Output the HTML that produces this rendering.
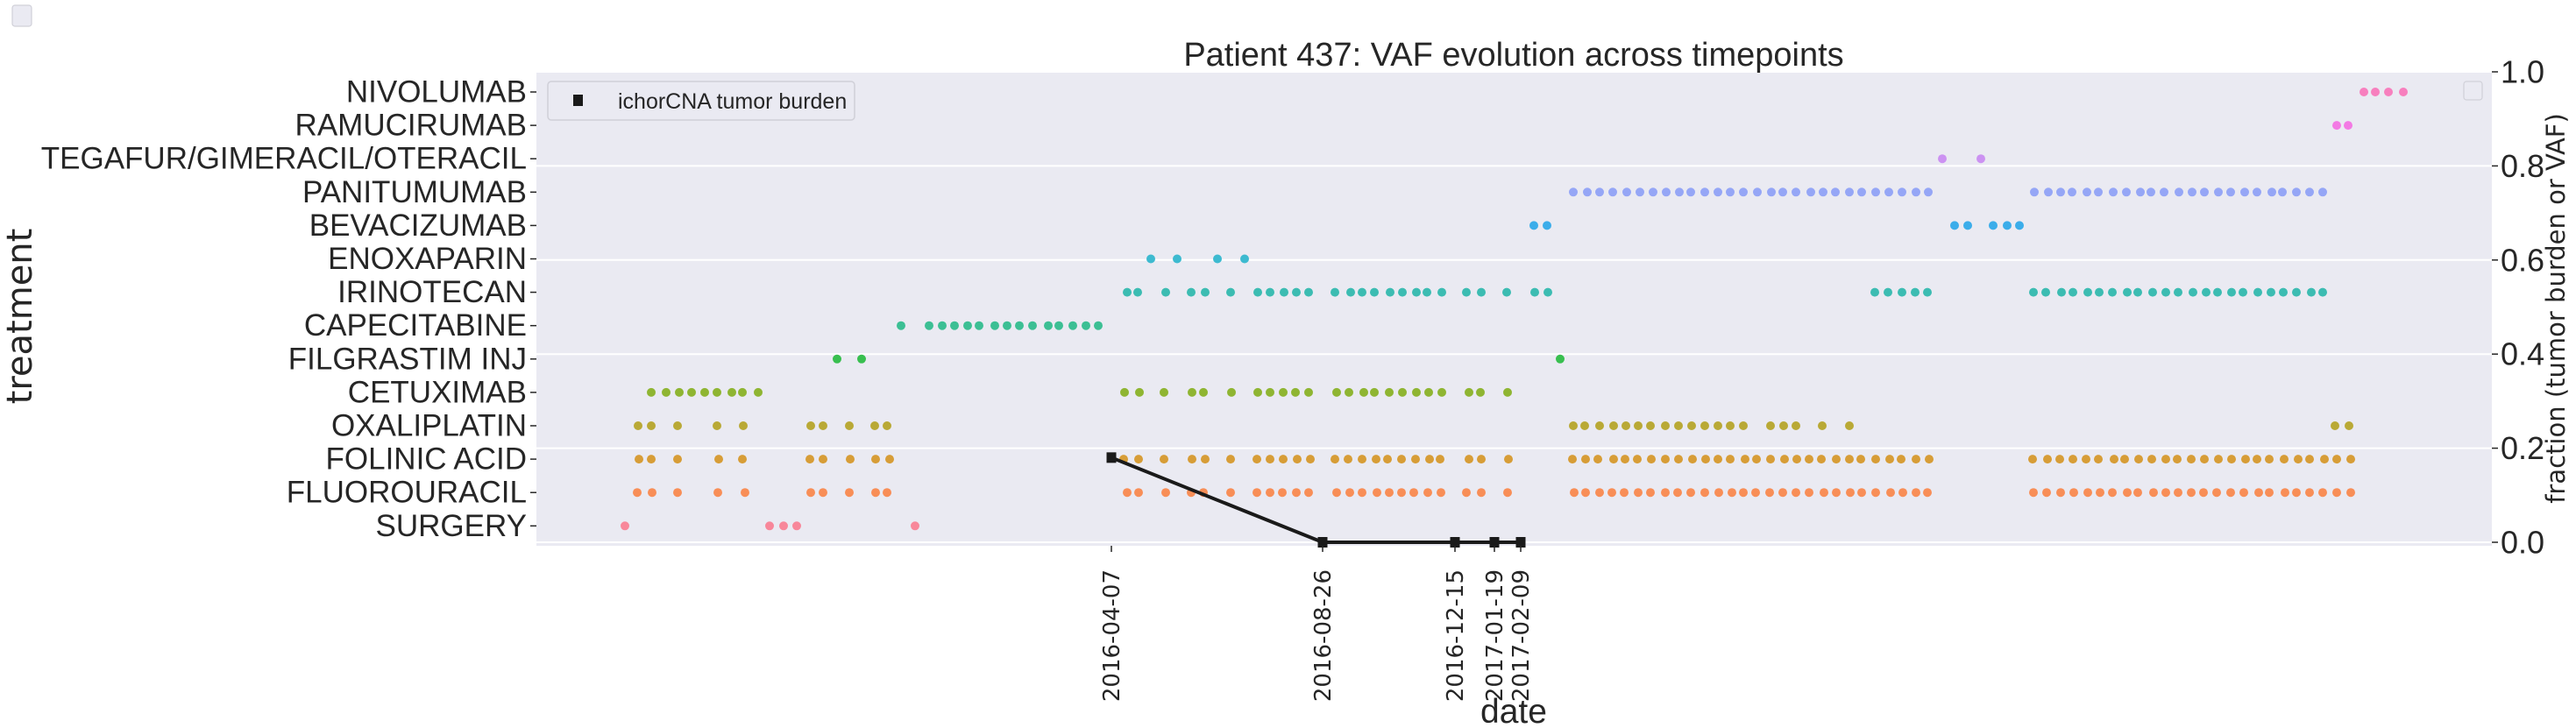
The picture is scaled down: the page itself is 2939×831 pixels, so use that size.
<!DOCTYPE html>
<html><head><meta charset="utf-8">
<style>
html,body{margin:0;padding:0;background:#fff;}
svg{display:block;}
</style></head>
<body>
<svg id="chart" width="2939" height="831" viewBox="0 0 2939 831" xmlns="http://www.w3.org/2000/svg">
  <rect x="612" y="82" width="2231" height="541" fill="#eaeaf2"/>
  <g id="grid"></g>
  <g id="marks"></g>
  <g id="axes"></g>
  <text x="1727" y="75" text-anchor="middle" font-family="Liberation Sans, sans-serif" font-size="38" fill="#262626">Patient 437: VAF evolution across timepoints</text>
  <text x="1727" y="825" text-anchor="middle" font-family="Liberation Sans, sans-serif" font-size="39" fill="#262626">date</text>
  <text transform="translate(36,361) rotate(-90)" text-anchor="middle" font-family="DejaVu Sans, sans-serif" font-size="40" fill="#262626">treatment</text>
  <text transform="translate(2926,352) rotate(-90)" text-anchor="middle" font-family="DejaVu Sans, sans-serif" font-size="29" fill="#262626">fraction (tumor burden or VAF)</text>
  <g>
    <rect x="625" y="93" width="350" height="44" rx="4" fill="#eaeaf2" stroke="#d0d0d8" stroke-width="1.5"/>
    <rect x="654" y="108" width="11" height="13" fill="#1a1a1a"/>
    <text x="705" y="124" font-family="Liberation Sans, sans-serif" font-size="25" fill="#262626">ichorCNA tumor burden</text>
  </g>
  <rect x="2811" y="93" width="21" height="21" rx="3" fill="#eaeaf2" stroke="#d0d0d8" stroke-width="1.2"/>
  <rect x="14" y="6" width="22" height="24" rx="3" fill="#eaeaf2" stroke="#d0d0d8" stroke-width="1.2"/>
</svg>
<script>
const categories = ["NIVOLUMAB","RAMUCIRUMAB","TEGAFUR/GIMERACIL/OTERACIL","PANITUMUMAB","BEVACIZUMAB","ENOXAPARIN","IRINOTECAN","CAPECITABINE","FILGRASTIM INJ","CETUXIMAB","OXALIPLATIN","FOLINIC ACID","FLUOROURACIL","SURGERY"];
const colors = ["#f77fbe","#f37ae4","#cc92f2","#95a6f6","#3badea","#3dbad0","#3cbcb2","#3cbf94","#38bf4f","#8fb532","#b9a936","#d79d37","#f88e57","#f8879a"];
const dNivo = [2097,2110,2125,2142];
const dRamu = [2066,2079];
const dTega = [1616,1660];
const dPani = [1195,1211,1225,1240,1256,1271,1286,1301,1316,1329,1345,1360,1374,1389,1405,1421,1434,1449,1466,1480,1494,1510,1524,1540,1555,1570,1586,1600,1721,1737,1751,1764,1781,1794,1811,1826,1842,1854,1869,1886,1901,1915,1931,1945,1961,1975,1992,2004,2020,2035,2050];
const dBev = [1150,1165,1630,1645,1674,1690,1704];
const dEnox = [713,743,789,820];
const dIrino = [686,698,730,759,775,804,835,849,865,879,893,923,941,954,968,986,1000,1016,1028,1045,1073,1090,1119,1151,1166,1539,1554,1570,1585,1599,1720,1734,1752,1765,1782,1795,1810,1827,1839,1856,1871,1885,1902,1917,1930,1946,1959,1976,1991,2005,2020,2037,2050];
const dCape = [428,460,475,489,504,517,535,549,563,578,596,608,624,639,653];
const dFilg = [355,383,1180];
const dCetux = [143,160,175,189,204,218,235,247,265,683,700,728,760,773,805,835,849,864,878,893,925,939,956,968,985,1000,1016,1030,1045,1076,1089,1120];
const dOxali = [128,143,173,218,248,325,339,369,398,412,1195,1208,1225,1241,1255,1269,1283,1300,1315,1330,1345,1360,1374,1389,1420,1435,1449,1479,1510,2064,2080];
const dFolinic = [129,143,173,220,247,324,339,370,399,415,682,699,728,760,775,804,834,849,864,880,895,923,938,954,970,983,999,1015,1031,1043,1076,1090,1121,1194,1209,1223,1241,1254,1268,1284,1300,1315,1331,1346,1360,1374,1391,1404,1420,1436,1450,1464,1478,1495,1510,1523,1540,1556,1569,1586,1601,1719,1736,1750,1765,1780,1794,1812,1824,1840,1855,1871,1884,1900,1915,1931,1946,1962,1975,1989,2006,2022,2035,2052,2066,2082];
const dFluoro = [127,144,173,219,250,325,339,369,399,412,686,699,730,759,773,804,834,849,863,879,893,925,940,954,971,985,999,1013,1029,1044,1073,1090,1120,1196,1209,1225,1239,1253,1269,1283,1300,1314,1329,1345,1361,1376,1389,1403,1419,1434,1449,1464,1481,1495,1511,1524,1540,1557,1571,1586,1599,1720,1735,1751,1766,1782,1796,1810,1827,1839,1857,1871,1885,1900,1914,1929,1945,1960,1977,1989,2007,2020,2035,2050,2066,2082];
const dSurgery = [113,278,294,309,444];
const tumorDates = ["2016-04-07","2016-08-26","2016-12-15","2017-01-19","2017-02-09"];
const tumorDays = [668,909,1060,1105,1135];
const tumorValues = [0.18,0,0,0,0];
const rightTicks = [0,0.2,0.4,0.6,0.8,1.0];
const rightTickLabels = ["0.0","0.2","0.4","0.6","0.8","1.0"];

const rows = [dNivo,dRamu,dTega,dPani,dBev,dEnox,dIrino,dCape,dFilg,dCetux,dOxali,dFolinic,dFluoro,dSurgery];
const NS = "http://www.w3.org/2000/svg";
const X0 = 612, X1 = 2843, D0 = 12, D1 = 2243;
function xS(d){ return X0 + (d - D0) * (X1 - X0) / (D1 - D0); }
function yCat(i){ return 105 + i * 38.1; }
function yVal(v){ return 619 - v * 537; }
function mk(tag, attrs, parent){ const e = document.createElementNS(NS, tag); for (const k in attrs) e.setAttribute(k, attrs[k]); parent.appendChild(e); return e; }

const grid = document.getElementById('grid');
const marks = document.getElementById('marks');
const axes = document.getElementById('axes');

rightTicks.forEach((v, i) => {
  const g = mk('line', {x1: X0, x2: X1, y1: yVal(v), y2: yVal(v), stroke: '#ffffff', 'stroke-width': 2}, grid);
  
  
  const t = mk('line', {x1: X1, x2: X1 + 7, y1: yVal(v), y2: yVal(v), stroke: '#262626', 'stroke-width': 1.5}, axes);
  
  
  const lb = mk('text', {x: X1 + 10, y: yVal(v), 'dominant-baseline': 'central', 'font-family': 'Liberation Sans, sans-serif', 'font-size': 36, fill: '#262626'}, axes);
  lb.textContent = rightTickLabels[i];
  
  
});

categories.forEach((c, i) => {
  const t = mk('line', {x1: X0 - 7, x2: X0, y1: yCat(i), y2: yCat(i), stroke: '#262626', 'stroke-width': 1.5}, axes);
  
  
  const lb = mk('text', {x: X0 - 11, y: yCat(i), 'text-anchor': 'end', 'dominant-baseline': 'central', 'font-family': 'Liberation Sans, sans-serif', 'font-size': 35, fill: '#262626'}, axes);
  lb.textContent = c;
  
  
  rows[i].forEach(d => {
    const dot = mk('ellipse', {cx: xS(d), cy: yCat(i), rx: 5, ry: 5, fill: colors[i]}, marks);
    
    
  });
});

const pts = tumorDays.map((d, i) => xS(d) + ',' + yVal(tumorValues[i])).join(' ');
const line = mk('polyline', {points: pts, fill: 'none', stroke: '#1a1a1a', 'stroke-width': 4}, marks);


tumorDays.forEach((d, i) => {
  const s = mk('rect', {x: xS(d) - 5.5, y: yVal(tumorValues[i]) - 6, width: 11, height: 12, fill: '#1a1a1a'}, marks);
  
  
  const t = mk('line', {x1: xS(d), x2: xS(d), y1: 623, y2: 630, stroke: '#262626', 'stroke-width': 1.5}, axes);
  
  
  const lb = mk('text', {transform: 'translate(' + (xS(d) + 9) + ',650) rotate(-90)', 'text-anchor': 'end', 'font-family': 'DejaVu Sans, sans-serif', 'font-size': 26, fill: '#262626'}, axes);
  lb.textContent = tumorDates[i];
  
  
});
</script>
</body></html>
